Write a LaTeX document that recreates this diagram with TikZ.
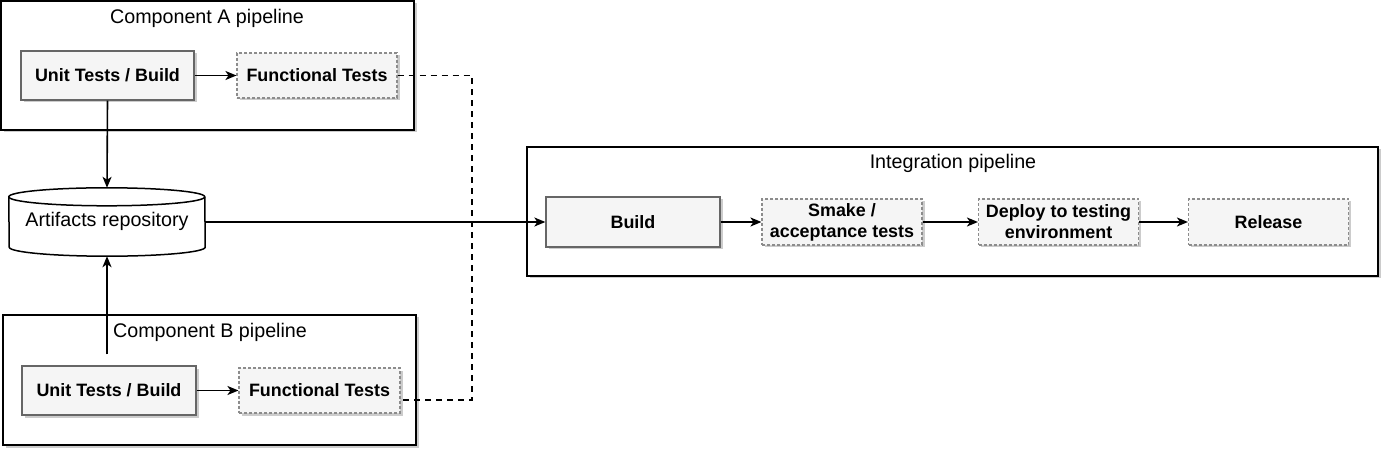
\documentclass[tikz,border=0pt]{standalone}
\usepackage{fontspec}
\setmainfont{Liberation Sans}
\usetikzlibrary{arrows.meta,shadows}
\definecolor{boxfill}{HTML}{F5F5F5}
\definecolor{boxline}{HTML}{666666}
\definecolor{dashline}{HTML}{8C8C8C}
\tikzset{
  shadowed/.style={drop shadow={shadow xshift=2.5pt,shadow yshift=-2.5pt,fill=black,opacity=0.2}},
  container/.style={draw=black,line width=1.5pt,fill=white,shadowed,inner sep=0pt},
  title/.style={font=\fontsize{19.7}{23}\selectfont,inner sep=0pt},
  taskbox/.style={draw=boxline,line width=1.3pt,fill=boxfill,shadowed,
    font=\fontsize{17.9}{21}\selectfont\bfseries,align=center,inner sep=0pt},
  dashbox/.style={draw=dashline,line width=1.1pt,dash pattern=on 3pt off 2pt,fill=boxfill,shadowed,
    font=\fontsize{17.9}{21}\selectfont\bfseries,align=center,inner sep=0pt},
  conn/.style={draw=black,line width=1.6pt,-{Stealth[length=11pt,width=9pt,inset=3pt]}},
  dashconn/.style={draw=black,line width=1.6pt,dash pattern=on 6pt off 5pt},
}
\begin{document}
\begin{tikzpicture}[x=1pt,y=-1pt]
\useasboundingbox (0,0) rectangle (1387,454);
% containers
\node[container,minimum width=413pt,minimum height=129pt] (boxA) at (207.5,65.5) {};
\node[container,minimum width=413pt,minimum height=130pt] (boxB) at (209.5,380) {};
\node[container,minimum width=851pt,minimum height=129pt] (boxI) at (952.5,211.5) {};
\node[title] (titleA) at (207,18) {Component A pipeline};
\node[title] (titleB) at (210,332) {Component B pipeline};
\node[title] (titleI) at (953,163) {Integration pipeline};
% component A
\node[taskbox,minimum width=173pt,minimum height=49pt] (ua) at (107.5,75.5) {Unit Tests / Build};
\node[dashbox,minimum width=160pt,minimum height=45pt] (fa) at (317,75.5) {Functional Tests};
% component B
\node[taskbox,minimum width=174pt,minimum height=49pt] (ub) at (109,390.5) {Unit Tests / Build};
\node[dashbox,minimum width=161pt,minimum height=45pt] (fb) at (319.5,390.5) {Functional Tests};
% repository (cylinder)
\node[minimum width=196pt,minimum height=68pt,inner sep=0pt] (repo) at (107,222) {};
\fill[black,opacity=0.2,xshift=2.5pt,yshift=-2.5pt]
  ([yshift=-9pt]repo.north west) arc[start angle=180,end angle=0,x radius=98pt,y radius=9pt]
  -- ([yshift=9pt]repo.south east) arc[start angle=0,end angle=-180,x radius=98pt,y radius=9pt] -- cycle;
\filldraw[fill=white,draw=black,line width=1.5pt]
  ([yshift=-9pt]repo.north west) arc[start angle=180,end angle=0,x radius=98pt,y radius=9pt]
  -- ([yshift=9pt]repo.south east) arc[start angle=0,end angle=-180,x radius=98pt,y radius=9pt] -- cycle;
\draw[black,line width=1.5pt]
  ([yshift=-9pt]repo.north west) arc[start angle=180,end angle=360,x radius=98pt,y radius=9pt];
\node[title] (repotext) at (107,221) {Artifacts repository};
% integration
\node[taskbox,minimum width=174pt,minimum height=50pt] (build) at (633,222) {Build};
\node[dashbox,minimum width=160pt,minimum height=46pt] (smake) at (842,222) {Smake /\\acceptance tests};
\node[dashbox,minimum width=160pt,minimum height=46pt] (deploy) at (1058.5,222) {Deploy to testing\\environment};
\node[dashbox,minimum width=160pt,minimum height=46pt] (release) at (1268.5,222) {Release};
% connectors
\draw[conn] (ua) -- (fa);
\draw[conn] (ub) -- (fb);
\draw[conn] (ua.south) -- (repo.north);
\draw[conn] ([yshift=11pt]ub.north -| repo.south) -- (repo.south);
\draw[conn] (repo.east) -- (build.west);
\draw[conn] (build) -- (smake);
\draw[conn] (smake) -- (deploy);
\draw[conn] (deploy) -- (release);
\coordinate (dj) at (472,75.5);
\coordinate (fbx) at ([yshift=-9.5pt]fb.east);
\draw[dashconn] (fa.east) -- (dj) -- (dj |- fbx) -- (fbx);
\end{tikzpicture}
\end{document}
